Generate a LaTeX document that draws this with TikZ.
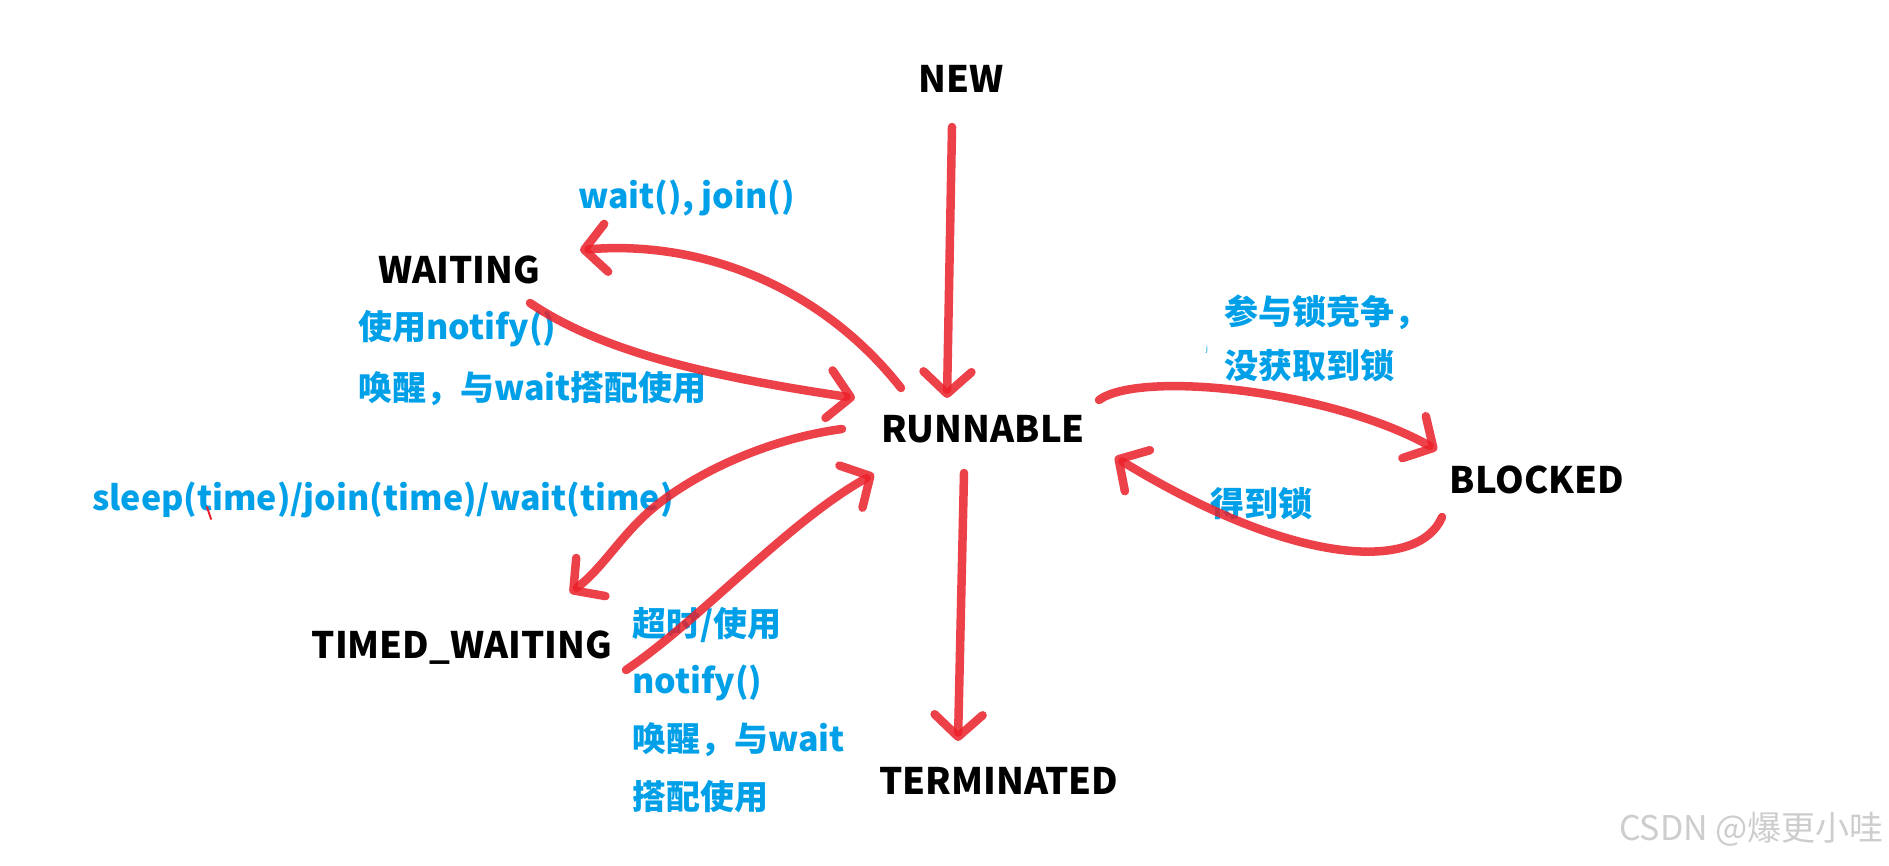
\documentclass[tikz,border=0pt]{standalone}
\usepackage{fontspec}
\newfontfamily\cjk{Noto Sans CJK SC}
\usetikzlibrary{arrows.meta}
\definecolor{sblue}{RGB}{0,160,233}
\definecolor{sred}{RGB}{235,32,42}
\definecolor{wmark}{RGB}{205,205,205}
\tikzset{
  statelbl/.style={font=\cjk\bfseries\fontsize{36.5}{42}\selectfont, text=black, inner sep=0pt, anchor=base},
  bluelbl/.style={font=\cjk\bfseries\fontsize{34}{40}\selectfont, text=sblue, inner sep=0pt, anchor=west},
  stroke/.style={draw=sred, line width=8.5pt, line cap=round, line join=round, draw opacity=0.85,
    -{Straight Barb[length=22pt,width=48pt,round]}},
}
\begin{document}
\begin{tikzpicture}[x=1pt,y=-1pt]
\useasboundingbox (0,0) rectangle (1889,865);
\fill[white] (0,0) rectangle (1889,865);

% states
\node[statelbl] (new) at (961,92) {NEW};
\node[statelbl] (waiting) at (459,283) {WAITING};
\node[statelbl] (runnable) at (983,442) {RUNNABLE};
\node[statelbl] (blocked) at (1537,493) {BLOCKED};
\node[statelbl] (timed) at (462,658) {TIMED\_WAITING};
\node[statelbl] (term) at (999,794) {TERMINATED};

% blue labels
\node[bluelbl] (lwait) at (578,198) {wait(), join()};
\node[bluelbl] (lnot1) at (358,329) {使用notify()};
\node[bluelbl] (lnot2) at (358,389) {唤醒，与wait搭配使用};
\node[bluelbl] (lsleep) at (92,500) {sleep(time)/join(time)/wait(time)};
\node[bluelbl] (lto1) at (632,625) {超时/使用};
\node[bluelbl] (lto2) at (632,683) {notify()};
\node[bluelbl] (lto3) at (632,740) {唤醒，与wait};
\node[bluelbl] (lto4) at (632,797) {搭配使用};
\node[bluelbl] (llk1) at (1224,312) {参与锁竞争，};
\node[bluelbl] (llk2) at (1224,366) {没获取到锁};
\node[bluelbl] (lget) at (1210,504) {得到锁};
\node[font=\cjk\fontsize{8}{9}\selectfont, text=sblue, inner sep=0pt] (stray) at (1207,349) {j};

% watermark
\node[font=\cjk\fontsize{34}{38}\selectfont, text=wmark, inner sep=0pt, anchor=east] (wm) at (1884,829) {CSDN @爆更小哇};

% stroke end points
\coordinate (n-s) at (952,127);
\coordinate (n-e) at (947,398);
\coordinate (rw-s) at (901,388);
\coordinate (rw-e) at (580,250);
\coordinate (wr-s) at (530,303);
\coordinate (wr-e) at (855,398);
\coordinate (rt-s) at (842,429);
\coordinate (rt-m) at (640,520);
\coordinate (rt-e) at (570,593);
\coordinate (tr-s) at (626,670);
\coordinate (tr-e) at (874,474);
\coordinate (rx-s) at (964,473);
\coordinate (rx-e) at (958,741);
\coordinate (rb-s) at (1099,400);
\coordinate (rb-e) at (1437,450);
\coordinate (br-s) at (1442,517);
\coordinate (br-e) at (1115,457);

% connectors
\draw[stroke] (n-s) -- (n-e);
\draw[stroke] (rw-s) .. controls (820,285) and (700,240) .. (rw-e);
\draw[stroke] (wr-s) .. controls (600,350) and (700,375) .. (wr-e);
\draw[stroke] (rt-s) .. controls (760,440) and (680,480) .. (rt-m) .. controls (615,545) and (600,570) .. (rt-e);
\draw[stroke] (tr-s) .. controls (700,620) and (790,520) .. (tr-e);
\draw[stroke] (rx-s) -- (rx-e);
\draw[stroke] (rb-s) .. controls (1140,370) and (1330,390) .. (rb-e);
\draw[stroke] (br-s) .. controls (1420,570) and (1300,570) .. (br-e);

% stray tick
\draw[sred, line width=2pt, line cap=round] (207,507) -- (211,519);
\end{tikzpicture}
\end{document}
